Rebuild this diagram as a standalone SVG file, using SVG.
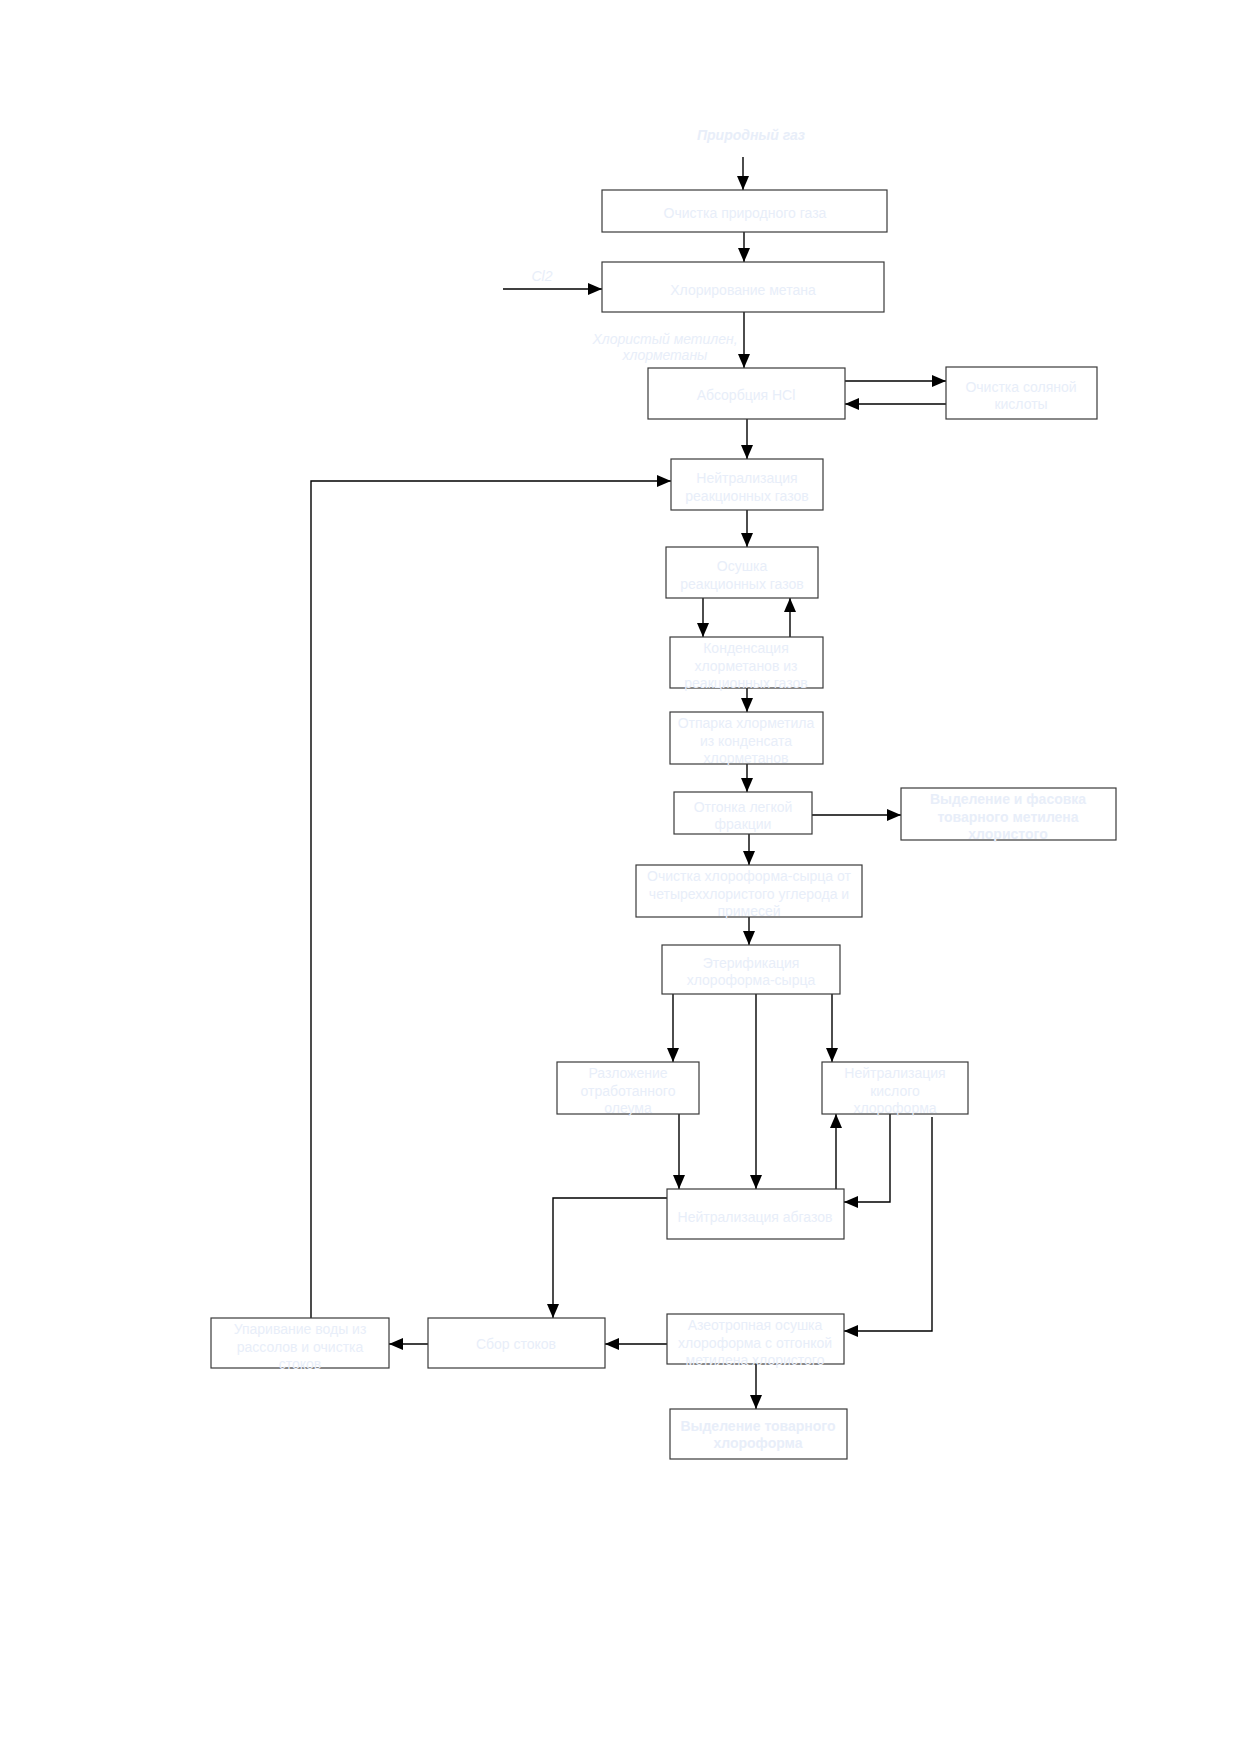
<svg xmlns="http://www.w3.org/2000/svg" width="1240" height="1754" viewBox="0 0 1240 1754">
<defs>
<marker id="ah" markerUnits="userSpaceOnUse" markerWidth="16" markerHeight="16" viewBox="0 0 16 16" refX="14" refY="8" orient="auto">
<path d="M0,2 L14,8 L0,14 Z" fill="#000"/>
</marker>
<style>
.b{fill:#fff;stroke:#3a3a3a;stroke-width:1.2}
.t{font-family:"Liberation Sans",Arial,sans-serif;font-size:14px;fill:#e8eef9;text-anchor:middle}
.bd{font-weight:bold}
.it{font-style:italic}
.c{fill:none;stroke:#000;stroke-width:1.4;marker-end:url(#ah)}
</style>
</defs>
<rect width="1240" height="1754" fill="#fff"/>
<g id="labels">
<text class="t bd it" x="751" y="140">Природный газ</text>
<text class="t it" x="542" y="281">Cl2</text>
<text class="t it" x="665" y="344">Хлористый метилен,</text>
<text class="t it" x="665" y="360">хлорметаны</text>
</g>
<g id="connectors">
<path class="c" d="M743,157 L743,190"/>
<path class="c" d="M744,232 L744,262"/>
<path class="c" d="M503,289 L602,289"/>
<path class="c" d="M744,312 L744,368"/>
<path class="c" d="M845,381 L946,381"/>
<path class="c" d="M946,404 L845,404"/>
<path class="c" d="M747,419 L747,459"/>
<path class="c" d="M311,1318 L311,481 L671,481"/>
<path class="c" d="M747,510 L747,547"/>
<path class="c" d="M703,598 L703,637"/>
<path class="c" d="M790,637 L790,598"/>
<path class="c" d="M747,688 L747,712"/>
<path class="c" d="M747,764 L747,792"/>
<path class="c" d="M812,815 L901,815"/>
<path class="c" d="M749,834 L749,865"/>
<path class="c" d="M749,917 L749,945"/>
<path class="c" d="M673,994 L673,1062"/>
<path class="c" d="M756,994 L756,1189"/>
<path class="c" d="M832,994 L832,1062"/>
<path class="c" d="M679,1114 L679,1189"/>
<path class="c" d="M836,1189 L836,1114"/>
<path class="c" d="M890,1114 L890,1202 L844,1202"/>
<path class="c" d="M932,1117 L932,1331 L844,1331"/>
<path class="c" d="M667,1198 L553,1198 L553,1318"/>
<path class="c" d="M667,1344 L605,1344"/>
<path class="c" d="M428,1344 L389,1344"/>
<path class="c" d="M756,1364 L756,1409"/>
</g>
<g id="n1"><rect class="b" x="602" y="190" width="285" height="42"/><text class="t" x="745" y="218">Очистка природного газа</text></g>
<g id="n2"><rect class="b" x="602" y="262" width="282" height="50"/><text class="t" x="743" y="295">Хлорирование метана</text></g>
<g id="n3"><rect class="b" x="648" y="368" width="197" height="51"/><text class="t" x="746" y="400">Абсорбция HCl</text></g>
<g id="n4"><rect class="b" x="946" y="367" width="151" height="52"/><text class="t" x="1021" y="392">Очистка соляной</text><text class="t" x="1021" y="409">кислоты</text></g>
<g id="n5"><rect class="b" x="671" y="459" width="152" height="51"/><text class="t" x="747" y="483">Нейтрализация</text><text class="t" x="747" y="501">реакционных газов</text></g>
<g id="n6"><rect class="b" x="666" y="547" width="152" height="51"/><text class="t" x="742" y="571">Осушка</text><text class="t" x="742" y="589">реакционных газов</text></g>
<g id="n7"><rect class="b" x="670" y="637" width="153" height="51"/><text class="t" x="746" y="653">Конденсация</text><text class="t" x="746" y="671">хлорметанов из</text><text class="t" x="746" y="688">реакционных газов</text></g>
<g id="n8"><rect class="b" x="670" y="712" width="153" height="52"/><text class="t" x="746" y="728">Отпарка хлорметила</text><text class="t" x="746" y="746">из конденсата</text><text class="t" x="746" y="763">хлорметанов</text></g>
<g id="n9"><rect class="b" x="674" y="792" width="138" height="42"/><text class="t" x="743" y="812">Отгонка легкой</text><text class="t" x="743" y="829">фракции</text></g>
<g id="n10"><rect class="b" x="901" y="788" width="215" height="52"/><text class="t bd" x="1008" y="804">Выделение и фасовка</text><text class="t bd" x="1008" y="822">товарного метилена</text><text class="t bd" x="1008" y="839">хлористого</text></g>
<g id="n11"><rect class="b" x="636" y="865" width="226" height="52"/><text class="t" x="749" y="881">Очистка хлороформа-сырца от</text><text class="t" x="749" y="899">четыреххлористого углерода и</text><text class="t" x="749" y="916">примесей</text></g>
<g id="n12"><rect class="b" x="662" y="945" width="178" height="49"/><text class="t" x="751" y="968">Этерификация</text><text class="t" x="751" y="985">хлороформа-сырца</text></g>
<g id="n13"><rect class="b" x="557" y="1062" width="142" height="52"/><text class="t" x="628" y="1078">Разложение</text><text class="t" x="628" y="1096">отработанного</text><text class="t" x="628" y="1113">олеума</text></g>
<g id="n14"><rect class="b" x="822" y="1062" width="146" height="52"/><text class="t" x="895" y="1078">Нейтрализация</text><text class="t" x="895" y="1096">кислого</text><text class="t" x="895" y="1113">хлороформа</text></g>
<g id="n15"><rect class="b" x="667" y="1189" width="177" height="50"/><text class="t" x="755" y="1222">Нейтрализация абгазов</text></g>
<g id="n16"><rect class="b" x="667" y="1314" width="177" height="50"/><text class="t" x="755" y="1330">Азеотропная осушка</text><text class="t" x="755" y="1348">хлороформа с отгонкой</text><text class="t" x="755" y="1365">метилена хлористого</text></g>
<g id="n17"><rect class="b" x="428" y="1318" width="177" height="50"/><text class="t" x="516" y="1349">Сбор стоков</text></g>
<g id="n18"><rect class="b" x="211" y="1318" width="178" height="50"/><text class="t" x="300" y="1334">Упаривание воды из</text><text class="t" x="300" y="1352">рассолов и очистка</text><text class="t" x="300" y="1369">стоков</text></g>
<g id="n19"><rect class="b" x="670" y="1409" width="177" height="50"/><text class="t bd" x="758" y="1431">Выделение товарного</text><text class="t bd" x="758" y="1448">хлороформа</text></g>
</svg>
